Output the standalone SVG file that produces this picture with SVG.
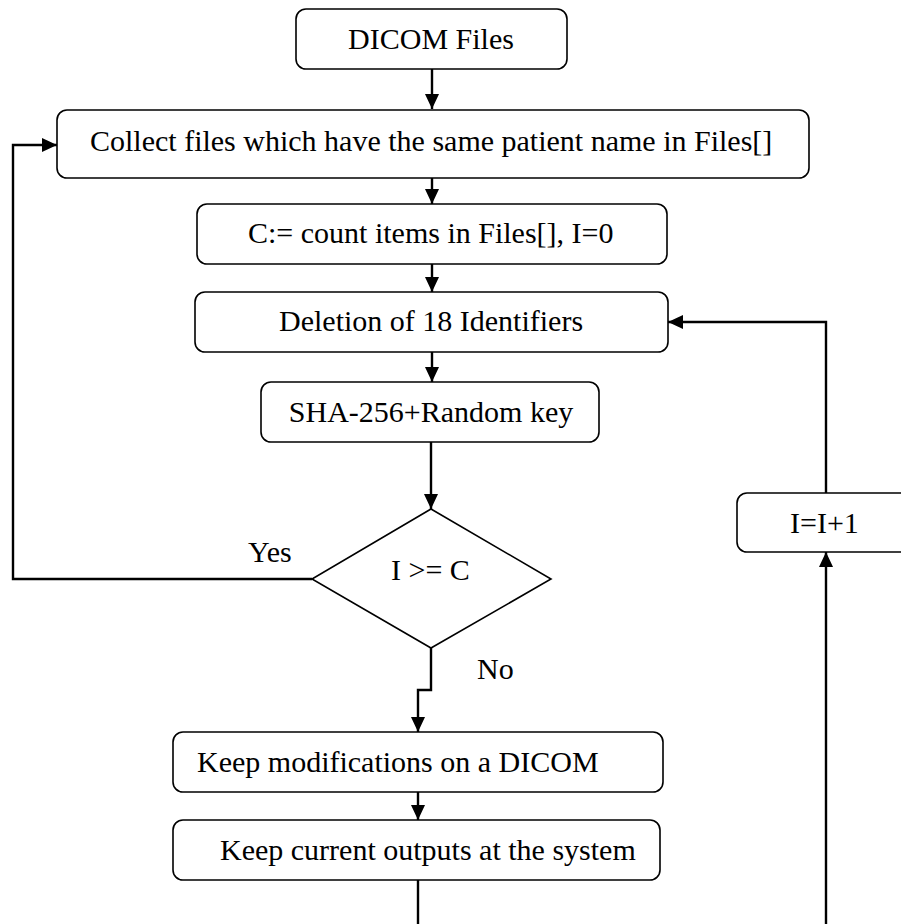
<svg xmlns="http://www.w3.org/2000/svg" width="901" height="924" viewBox="0 0 901 924">
  <style>
    .box { fill: #fff; stroke: #000; stroke-width: 1.6; }
    .lbl { font-family: 'Liberation Serif', 'Times New Roman', Times, 'DejaVu Serif', serif; font-size: 30px; fill: #000; }
    .wire { fill: none; stroke: #000; stroke-width: 2.4; }
  </style>
  <defs>
    <marker id="arrow" viewBox="0 0 15 14" refX="15" refY="7" markerWidth="15" markerHeight="14" markerUnits="userSpaceOnUse" orient="auto">
      <path d="M0,0 L15,7 L0,14 z" fill="#000"/>
    </marker>
  </defs>
  <rect width="901" height="924" fill="#fff"/>

  <!-- connectors -->
  <g id="connectors">
    <path class="wire" d="M432,69 V109" marker-end="url(#arrow)"/>
    <path class="wire" d="M432,178 V204" marker-end="url(#arrow)"/>
    <path class="wire" d="M432,264 V292" marker-end="url(#arrow)"/>
    <path class="wire" d="M432,352 V382" marker-end="url(#arrow)"/>
    <path class="wire" d="M431,442 V509" marker-end="url(#arrow)"/>
    <path class="wire" d="M312,579 H13 V145 H57" marker-end="url(#arrow)"/>
    <path class="wire" d="M431,648 V690 H418 V732" marker-end="url(#arrow)"/>
    <path class="wire" d="M418,792 V820" marker-end="url(#arrow)"/>
    <path class="wire" d="M418,880 V924"/>
    <path class="wire" d="M826,924 V552" marker-end="url(#arrow)"/>
    <path class="wire" d="M826,493 V322 H668" marker-end="url(#arrow)"/>
  </g>

  <g id="dicom-files">
    <rect class="box" x="296" y="9" width="271" height="60" rx="10"/>
    <text class="lbl" font-family="Liberation Serif, serif" x="431" y="49" text-anchor="middle">DICOM Files</text>
  </g>

  <g id="collect">
    <rect class="box" x="57" y="110" width="752" height="68" rx="10"/>
    <text class="lbl" x="90" y="151">Collect files which have the same patient name in Files[]</text>
  </g>

  <g id="count">
    <rect class="box" x="197" y="204" width="470" height="60" rx="10"/>
    <text class="lbl" x="248" y="243">C:= count items in Files[], I=0</text>
  </g>

  <g id="deletion">
    <rect class="box" x="195" y="292" width="473" height="60" rx="10"/>
    <text class="lbl" x="279" y="331">Deletion of 18 Identifiers</text>
  </g>

  <g id="hash">
    <rect class="box" x="261" y="382" width="338" height="60" rx="10"/>
    <text class="lbl" x="431" y="422" text-anchor="middle">SHA-256+Random key</text>
  </g>

  <g id="decision">
    <polygon class="box" points="431,509 551,579 431,648 312,579"/>
    <text class="lbl" x="391" y="580">I &gt;= C</text>
    <text class="lbl" x="248" y="562">Yes</text>
    <text class="lbl" x="477" y="679">No</text>
  </g>

  <g id="increment">
    <rect class="box" x="737" y="493" width="180" height="59" rx="10"/>
    <text class="lbl" x="790" y="533">I=I+1</text>
  </g>

  <g id="keep-modifications">
    <rect class="box" x="173" y="732" width="490" height="60" rx="10"/>
    <text class="lbl" x="197" y="772">Keep modifications on a DICOM</text>
  </g>

  <g id="keep-outputs">
    <rect class="box" x="173" y="820" width="487" height="60" rx="10"/>
    <text class="lbl" x="220" y="860">Keep current outputs at the system</text>
  </g>
</svg>
